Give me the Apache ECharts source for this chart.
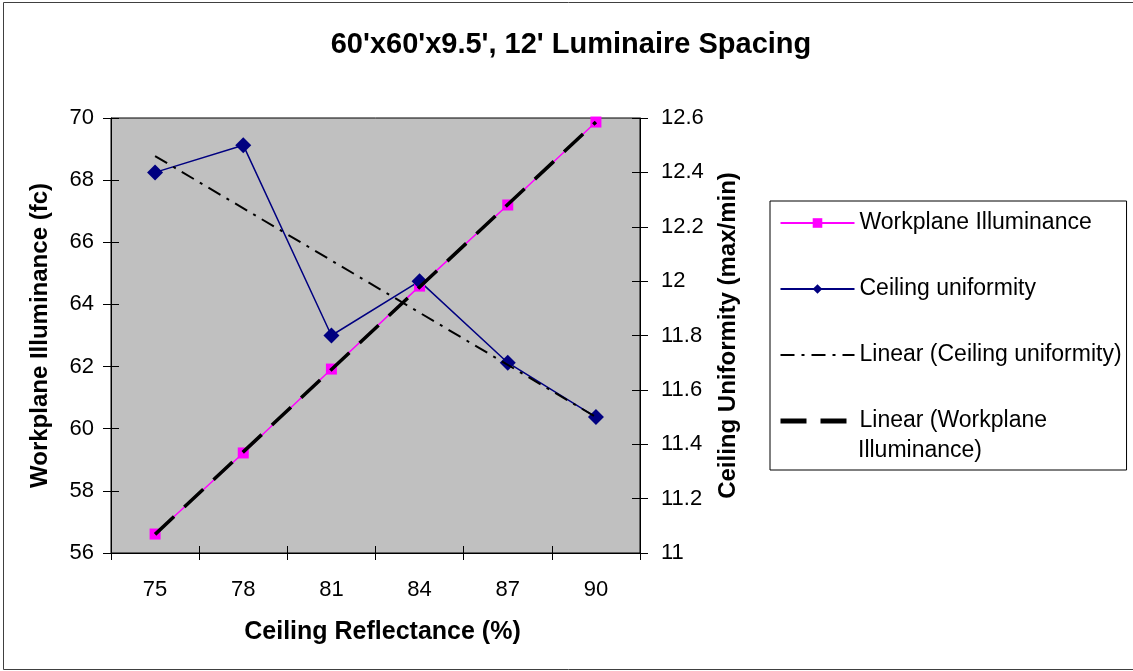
<!DOCTYPE html>
<html>
<head>
<meta charset="utf-8">
<script src="https://cdn.jsdelivr.net/npm/echarts@6/dist/echarts.min.js"></script>
<style>
html,body{margin:0;padding:0;background:#fff;}
#chart{width:1133px;height:671px;}
</style>
</head>
<body>
<div id="chart"></div>
<script>
// ---- data ----
const categories = ['75', '78', '81', '84', '87', '90'];
const workplaneIlluminance = [56.61, 59.22, 61.92, 64.59, 67.20, 69.87];
const ceilingUniformity = [12.4, 12.5, 11.8, 12.0, 11.7, 11.5];
// linear trend lines (end points)
const linearUniformity = [12.46, null, null, null, null, 11.50];
const linearWorkplane = [56.60, null, null, null, null, 69.87];
const leftTicks = { min: 56, max: 70, interval: 2 };
const rightTicks = { min: 11, max: 12.6, interval: 0.2 };

const FONT = '"Liberation Sans", Arial, sans-serif';
const chart = echarts.init(document.getElementById('chart'));

const gridBox = { left: 111, right: 493, top: 118, bottom: 118 };

const option = {
  backgroundColor: '#ffffff',
  animation: false,
  title: {
    text: "60'x60'x9.5', 12' Luminaire Spacing",
    left: 566, top: 25, textAlign: 'center',
    textStyle: { fontFamily: FONT, fontSize: 29, fontWeight: 'bold', color: '#000' }
  },
  grid: Object.assign({ backgroundColor: '#c0c0c0', show: true, borderColor: '#000', borderWidth: 1 }, gridBox),
  legend: {
    orient: 'vertical',
    left: 770, top: 201,
    padding: [7, 5, 34, 8],
    borderColor: '#000', borderWidth: 1,
    itemWidth: 74, itemHeight: 12, itemGap: 36,
    textStyle: { fontFamily: FONT, fontSize: 23, color: '#000', lineHeight: 30 },
    formatter: function (n) { return n === 'Linear (Workplane Illuminance)' ? 'Linear (Workplane' : n; },
    data: [
      { name: 'Workplane Illuminance' },
      { name: 'Ceiling uniformity' },
      { name: 'Linear (Ceiling uniformity)', itemStyle: { opacity: 0 } },
      { name: 'Linear (Workplane Illuminance)', itemStyle: { opacity: 0 }, lineStyle: { width: 5 } }
    ]
  },
  graphic: [
    { type: 'rect', shape: { x: 3.5, y: 2.5, width: 1130, height: 667 }, style: { fill: 'none', stroke: '#404040', lineWidth: 1 }, silent: true, z: 100 },
    { type: 'text', left: 858, top: 439, style: { text: 'Illuminance)', font: '23px ' + FONT, fill: '#000' } }
  ],
  xAxis: [
    {
      type: 'category', data: categories, boundaryGap: true, position: 'bottom',
      axisLine: { lineStyle: { color: '#000', width: 1 } },
      axisTick: { show: true, length: 7, interval: 0, lineStyle: { color: '#000' } },
      axisLabel: { fontFamily: FONT, fontSize: 22, color: '#000', margin: 26 },
      name: 'Ceiling Reflectance (%)', nameLocation: 'middle', nameGap: 67,
      nameTextStyle: { fontFamily: FONT, fontSize: 25, fontWeight: 'bold', color: '#000', padding: [0, 0, 0, 14] }
    },
    {
      type: 'category', data: categories, boundaryGap: true, position: 'bottom',
      axisLine: { show: false },
      axisTick: { show: true, inside: true, length: 7, interval: 0, lineStyle: { color: '#000' } },
      axisLabel: { show: false }
    }
  ],
  yAxis: [
    {
      type: 'value', position: 'left', min: leftTicks.min, max: leftTicks.max, interval: leftTicks.interval,
      splitLine: { show: false },
      axisLine: { show: true, lineStyle: { color: '#000' } },
      axisTick: { show: true, length: 8, lineStyle: { color: '#000' } },
      axisLabel: { fontFamily: FONT, fontSize: 22, color: '#000', margin: 17 },
      name: 'Workplane Illuminance (fc)', nameLocation: 'middle', nameGap: 59,
      nameTextStyle: { fontFamily: FONT, fontSize: 24, fontWeight: 'bold', color: '#000' }
    },
    {
      type: 'value', position: 'right', min: rightTicks.min, max: rightTicks.max, interval: rightTicks.interval,
      splitLine: { show: false },
      axisLine: { show: true, lineStyle: { color: '#000' } },
      axisTick: { show: true, length: 8, lineStyle: { color: '#000' } },
      axisLabel: { fontFamily: FONT, fontSize: 22, color: '#000', margin: 21 },
      name: 'Ceiling Uniformity (max/min)', nameLocation: 'middle', nameGap: 76,
      nameTextStyle: { fontFamily: FONT, fontSize: 24, fontWeight: 'bold', color: '#000' }
    },
    {
      type: 'value', position: 'left', min: leftTicks.min, max: leftTicks.max, interval: leftTicks.interval,
      splitLine: { show: false }, axisLine: { show: false },
      axisTick: { show: true, inside: true, length: 8, lineStyle: { color: '#000' } },
      axisLabel: { show: false }
    },
    {
      type: 'value', position: 'right', min: rightTicks.min, max: rightTicks.max, interval: rightTicks.interval,
      splitLine: { show: false }, axisLine: { show: false },
      axisTick: { show: true, inside: true, length: 8, lineStyle: { color: '#000' } },
      axisLabel: { show: false }
    }
  ],
  series: [
    {
      name: 'Linear (Workplane Illuminance)', type: 'line', yAxisIndex: 0, data: linearWorkplane,
      connectNulls: true, symbol: 'none', z: 3,
      lineStyle: { color: '#000', width: 3.5, type: [26, 14] },
      itemStyle: { color: '#000' }
    },
    {
      name: 'Workplane Illuminance', type: 'line', yAxisIndex: 0, data: workplaneIlluminance,
      symbol: 'rect', symbolSize: 11, z: 2,
      lineStyle: { color: '#ff00ff', width: 1.5 },
      itemStyle: { color: '#ff00ff' }
    },
    {
      name: 'Ceiling uniformity', type: 'line', yAxisIndex: 1, data: ceilingUniformity,
      symbol: 'diamond', symbolSize: 16, z: 2,
      lineStyle: { color: '#000080', width: 1.5 },
      itemStyle: { color: '#000080' }
    },
    {
      name: 'Linear (Ceiling uniformity)', type: 'line', yAxisIndex: 1, data: linearUniformity,
      connectNulls: true, symbol: 'none', z: 3,
      lineStyle: { color: '#000', width: 2, type: [14, 7, 3, 7] },
      itemStyle: { color: '#000' }
    }
  ]
};
chart.setOption(option);
</script>
</body>
</html>
